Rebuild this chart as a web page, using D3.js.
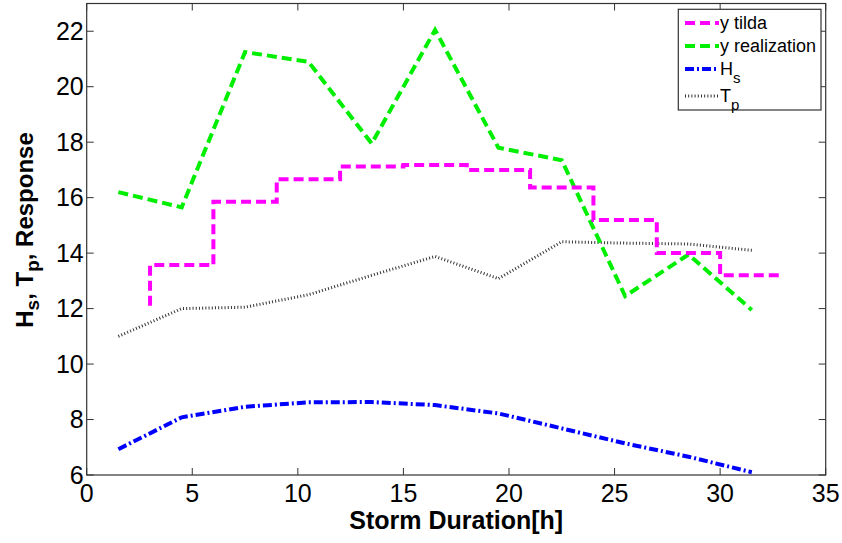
<!DOCTYPE html>
<html>
<head>
<meta charset="utf-8">
<script src="https://cdn.jsdelivr.net/npm/d3@7"></script>
<style>
body { margin: 0; background: #fff; }
svg text { font-family: Arial, "Liberation Sans", sans-serif; }
</style>
</head>
<body>
<div id="chart"></div>
<script>
// storm hours where the realization / Hs / Tp are sampled
var hours = [1.5, 4.5, 7.5, 10.5, 13.5, 16.5, 19.5, 22.5, 25.5, 28.5, 31.5];
var yRealization = [16.2, 15.65, 21.25, 20.9, 17.95, 22.05, 17.8, 17.35, 12.45, 13.95, 11.95];
var hsValues = [6.93, 8.08, 8.46, 8.62, 8.63, 8.52, 8.22, 7.68, 7.14, 6.66, 6.1];
var tpValues = [11.0, 12.0, 12.05, 12.5, 13.2, 13.88, 13.08, 14.41, 14.36, 14.33, 14.1];

// y tilda is a step line (value holds until next x)
var tildaX = [3, 3, 6, 9, 12, 15, 18, 21, 24, 27, 30, 33];
var tildaY = [12.1, 13.57, 15.85, 16.66, 17.12, 17.18, 17.0, 16.37, 15.19, 14.0, 13.2, 13.2];

var xTicks = [0, 5, 10, 15, 20, 25, 30, 35];
var yTicks = [6, 8, 10, 12, 14, 16, 18, 20, 22];

var width = 842, height = 543;
var margin = {top: 3.5, right: 16.3, bottom: 68, left: 86.7};

var svg = d3.select("#chart")
    .append("svg")
    .attr("width", width)
    .attr("height", height);

var x = d3.scaleLinear()
    .domain([0, 35])
    .range([margin.left, width - margin.right]);

var y = d3.scaleLinear()
    .domain([6, 23])
    .range([height - margin.bottom, margin.top]);

var axisColor = "#333";

// plot box
svg.append("rect")
    .attr("x", x(0))
    .attr("y", y(23))
    .attr("width", x(35) - x(0))
    .attr("height", y(6) - y(23))
    .attr("fill", "none")
    .attr("stroke", axisColor)
    .attr("stroke-width", 1.2);

// ticks pointing inward, on all four sides like matlab
var tickLen = 7;
xTicks.forEach(function(t) {
    svg.append("line").attr("x1", x(t)).attr("x2", x(t))
        .attr("y1", y(6)).attr("y2", y(6) - tickLen)
        .attr("stroke", axisColor);
    svg.append("line").attr("x1", x(t)).attr("x2", x(t))
        .attr("y1", y(23)).attr("y2", y(23) + tickLen)
        .attr("stroke", axisColor);
    svg.append("text")
        .attr("x", x(t))
        .attr("y", 502)
        .attr("text-anchor", "middle")
        .attr("font-size", 25)
        .text(t);
});
yTicks.forEach(function(t) {
    svg.append("line").attr("x1", x(0)).attr("x2", x(0) + tickLen)
        .attr("y1", y(t)).attr("y2", y(t))
        .attr("stroke", axisColor);
    svg.append("line").attr("x1", x(35)).attr("x2", x(35) - tickLen)
        .attr("y1", y(t)).attr("y2", y(t))
        .attr("stroke", axisColor);
    svg.append("text")
        .attr("x", x(0) - 3)
        .attr("y", y(t))
        .attr("dy", "0.34em")
        .attr("text-anchor", "end")
        .attr("font-size", 25)
        .text(t);
});

// axis titles
svg.append("text")
    .attr("x", x(17.5))
    .attr("y", 529)
    .attr("text-anchor", "middle")
    .attr("font-size", 25)
    .attr("font-weight", "bold")
    .text("Storm Duration[h]");

var yl = svg.append("text")
    .attr("transform", "translate(33,230) rotate(-90)")
    .attr("text-anchor", "middle")
    .attr("font-size", 24)
    .attr("font-weight", "bold");
yl.append("tspan").text("H");
yl.append("tspan").attr("font-size", 19).attr("dy", 6).text("s");
yl.append("tspan").attr("dy", -6).text(", T");
yl.append("tspan").attr("font-size", 19).attr("dy", 6).text("p");
yl.append("tspan").attr("dy", -6).text(", Response");

// lines
var line = d3.line()
    .x(function(d) { return x(d[0]); })
    .y(function(d) { return y(d[1]); });

var stepLine = d3.line()
    .x(function(d) { return x(d[0]); })
    .y(function(d) { return y(d[1]); })
    .curve(d3.curveStepAfter);

var series = [
    {name: "y tilda", pts: d3.zip(tildaX, tildaY), gen: stepLine, color: "#ff00ff", dash: "10,5", w: 4},
    {name: "y realization", pts: d3.zip(hours, yRealization), gen: line, color: "#00ee00", dash: "10,5", w: 4},
    {name: "H", sub: "s", pts: d3.zip(hours, hsValues), gen: line, color: "#0000ff", dash: "9,3,2,3", w: 4},
    {name: "T", sub: "p", pts: d3.zip(hours, tpValues), gen: line, color: "#333", dash: "1,2.2", w: 3}
];

// draw Tp first so the others sit on top
series.slice().reverse().forEach(function(s) {
    svg.append("path")
        .attr("d", s.gen(s.pts))
        .attr("fill", "none")
        .attr("stroke", s.color)
        .attr("stroke-width", s.w)
        .attr("stroke-dasharray", s.dash);
});

// legend
var legend = svg.append("g");
legend.append("rect")
    .attr("x", 678.3)
    .attr("y", 9.3)
    .attr("width", 142.7)
    .attr("height", 100.7)
    .attr("fill", "#fff")
    .attr("stroke", axisColor)
    .attr("stroke-width", 1.2);

var rowY = [23, 46, 69, 96];
series.forEach(function(s, i) {
    legend.append("line")
        .attr("x1", 685).attr("x2", 719)
        .attr("y1", rowY[i]).attr("y2", rowY[i])
        .attr("stroke", s.color)
        .attr("stroke-width", s.w)
        .attr("stroke-dasharray", s.dash);
    var t = legend.append("text")
        .attr("x", 720)
        .attr("y", rowY[i])
        .attr("dy", "0.36em")
        .attr("font-size", 18)
        .text(s.name);
    if (s.sub) {
        t.append("tspan").attr("font-size", 15).attr("dy", 8).text(s.sub);
    }
});
</script>
</body>
</html>
